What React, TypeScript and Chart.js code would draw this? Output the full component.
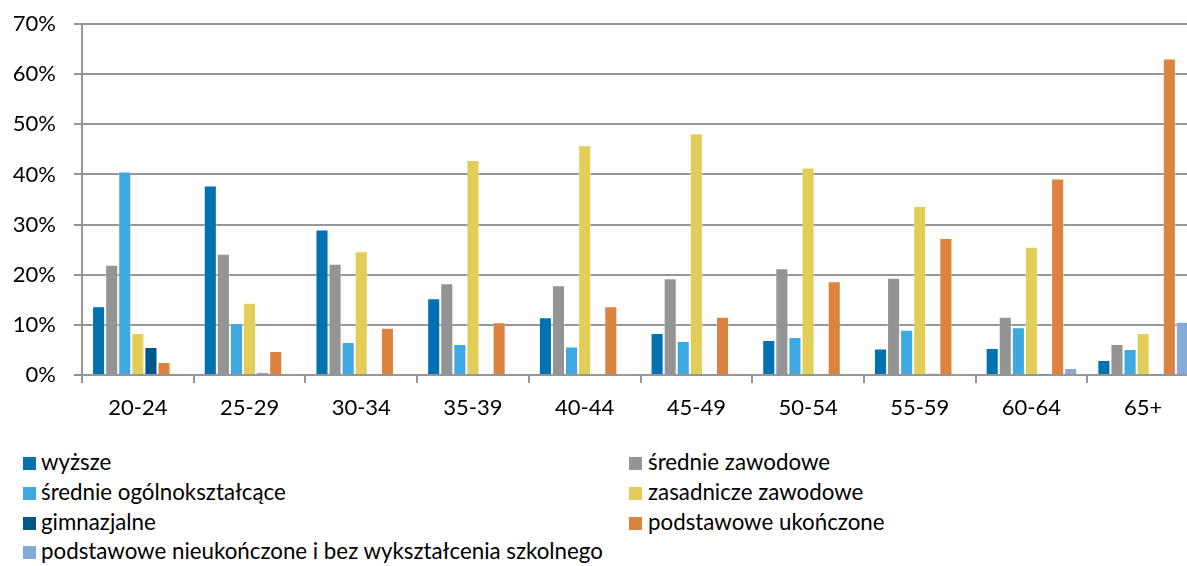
import React, { useEffect, useRef } from "react";
import { Chart, registerables } from "chart.js";

Chart.register(...registerables);

const categories = ["20-24", "25-29", "30-34", "35-39", "40-44", "45-49", "50-54", "55-59", "60-64", "65+"];

const seriesLabels = [
  "wyższe",
  "średnie zawodowe",
  "średnie ogólnokształcące",
  "zasadnicze zawodowe",
  "gimnazjalne",
  "podstawowe ukończone",
  "podstawowe nieukończone i bez wykształcenia szkolnego",
];

const seriesColors = ["#0071B1", "#949494", "#3EA9E1", "#E2CD59", "#00578A", "#DC843F", "#86AAD8"];

const wyzsze = [13.7, 37.8, 29.0, 15.3, 11.5, 8.4, 7.0, 5.3, 5.4, 3.0];
const sredZawodowe = [22.0, 24.2, 22.2, 18.3, 17.9, 19.3, 21.3, 19.4, 11.6, 6.2];
const sredOgolne = [40.6, 10.3, 6.6, 6.2, 5.7, 6.8, 7.6, 9.0, 9.5, 5.2];
const zasadnicze = [8.4, 14.4, 24.7, 42.9, 45.8, 48.2, 41.4, 33.7, 25.6, 8.4];
const gimnazjalne = [5.6, 0.4, 0.0, 0.0, 0.0, 0.0, 0.0, 0.3, 0.1, 0.1];
const podstUkonczone = [2.6, 4.8, 9.4, 10.5, 13.7, 11.6, 18.7, 27.3, 39.2, 63.1];
const podstNieukonczone = [0.3, 0.1, 0.0, 0.2, 0.1, 0.3, 0.2, 0.1, 1.4, 10.6];

const seriesValues = [wyzsze, sredZawodowe, sredOgolne, zasadnicze, gimnazjalne, podstUkonczone, podstNieukonczone];

const yTicks = [0, 10, 20, 30, 40, 50, 60, 70];

const FONT = "Lato, 'Open Sans', 'Noto Sans', sans-serif";

export default function App() {
  const canvasRef = useRef<HTMLCanvasElement | null>(null);

  useEffect(() => {
    if (!canvasRef.current) return;
    const chart = new Chart(canvasRef.current, {
      type: "bar",
      data: {
        labels: categories,
        datasets: seriesLabels.map((label, i) => ({
          label,
          data: seriesValues[i],
          backgroundColor: seriesColors[i],
          borderColor: "rgba(255,255,255,0.35)",
          borderWidth: 1,
          categoryPercentage: 0.82,
          barPercentage: 1.0,
        })),
      },
      options: {
        animation: false,
        responsive: false,
        maintainAspectRatio: false,
        layout: { padding: { left: 0, right: 21, top: 24, bottom: 0 } },
        plugins: {
          legend: { display: false },
          tooltip: { enabled: false },
        },
        scales: {
          x: {
            afterFit: (s: any) => {
              s.height = 55;
              s.paddingLeft = 0;
              s.paddingRight = 0;
            },
            grid: {
              display: true,
              drawOnChartArea: false,
              drawTicks: true,
              tickLength: 8,
              color: "#969696",
              lineWidth: 2,
            },
            border: { display: true, color: "#969696", width: 2 },
            ticks: {
              color: "#000",
              font: { family: FONT, size: 22 },
              padding: 12,
              maxRotation: 0,
            },
          },
          y: {
            min: 0,
            max: 70,
            afterFit: (s: any) => {
              s.width = 82;
              s.paddingTop = 0;
              s.paddingBottom = 0;
            },
            afterBuildTicks: (s: any) => {
              s.ticks = yTicks.map((v) => ({ value: v }));
            },
            grid: {
              color: "#969696",
              lineWidth: 2,
              tickLength: 8,
            },
            border: { display: true, color: "#969696", width: 2 },
            ticks: {
              color: "#000",
              font: { family: FONT, size: 22 },
              padding: 18,
              callback: (v: any) => v + "%",
            },
          },
        },
      },
    });
    return () => chart.destroy();
  }, []);

  const rowY = [463, 493, 523, 552];
  const legendItems = seriesLabels.map((label, i) => {
    const col = i % 2;
    const row = Math.floor(i / 2);
    return { label, color: seriesColors[i], col, row };
  });

  return (
    <div
      style={{
        position: "fixed",
        left: 0,
        top: 0,
        width: 1187,
        height: 566,
        overflow: "hidden",
        background: "#fff",
      }}
    >
      <canvas
        ref={canvasRef}
        width={1220}
        height={430}
        style={{ position: "absolute", left: 0, top: 0, width: 1220, height: 430 }}
      />
      {legendItems.map((it) => {
        const boxX = it.col === 0 ? 23 : 629;
        const textX = it.col === 0 ? 41 : 648;
        const cy = rowY[it.row];
        return (
          <React.Fragment key={it.label}>
            <div
              style={{
                position: "absolute",
                left: boxX,
                top: cy - 6,
                width: 13,
                height: 13,
                background: it.color,
              }}
            />
            <div
              style={{
                position: "absolute",
                left: textX,
                top: cy - 15,
                height: 28,
                lineHeight: "28px",
                fontFamily: FONT,
                fontSize: 22.3,
                color: "#000",
                whiteSpace: "nowrap",
              }}
            >
              {it.label}
            </div>
          </React.Fragment>
        );
      })}
    </div>
  );
}
